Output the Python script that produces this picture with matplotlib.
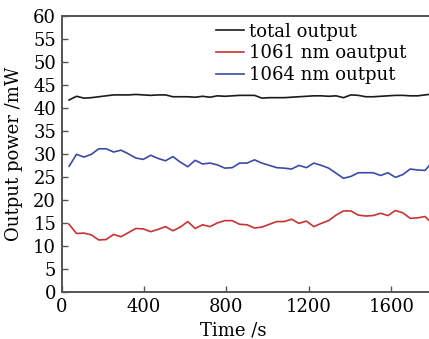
import matplotlib
matplotlib.use('Agg')
import matplotlib.pyplot as plt

# time axis: one reading every 36 s
time_s = [36, 72, 108, 144, 180, 216, 252, 288, 324, 360,
          396, 432, 468, 504, 540, 576, 612, 648, 684, 720,
          756, 792, 828, 864, 900, 936, 972, 1008, 1044, 1080,
          1116, 1152, 1188, 1224, 1260, 1296, 1332, 1368, 1404, 1440,
          1476, 1512, 1548, 1584, 1620, 1656, 1692, 1728, 1764, 1800]

total_out = [41.7, 42.5, 42.1, 42.2, 42.4, 42.6, 42.8, 42.8, 42.8, 42.9,
             42.8, 42.7, 42.8, 42.8, 42.4, 42.4, 42.4, 42.3, 42.5, 42.3,
             42.6, 42.5, 42.6, 42.7, 42.7, 42.7, 42.1, 42.2, 42.2, 42.2,
             42.3, 42.4, 42.5, 42.6, 42.6, 42.5, 42.6, 42.2, 42.8, 42.7,
             42.4, 42.4, 42.5, 42.6, 42.7, 42.7, 42.6, 42.6, 42.8, 43.0]

out_1061 = [14.7, 12.7, 12.8, 12.4, 11.3, 11.4, 12.5, 12.0, 12.9, 13.8,
            13.7, 13.1, 13.6, 14.2, 13.3, 14.1, 15.3, 13.8, 14.6, 14.2,
            15.0, 15.5, 15.5, 14.7, 14.6, 13.9, 14.1, 14.7, 15.3, 15.3,
            15.8, 14.9, 15.4, 14.2, 14.9, 15.5, 16.7, 17.6, 17.6, 16.7,
            16.5, 16.6, 17.1, 16.6, 17.7, 17.2, 16.0, 16.1, 16.4, 14.8]

out_1064 = [27.3, 29.9, 29.3, 29.9, 31.1, 31.1, 30.4, 30.8, 30.0, 29.1,
            28.8, 29.7, 29.0, 28.5, 29.4, 28.2, 27.2, 28.6, 27.8, 28.0,
            27.6, 26.9, 27.0, 28.0, 28.0, 28.7, 28.0, 27.5, 27.0, 26.9,
            26.7, 27.5, 27.0, 28.0, 27.5, 26.9, 25.8, 24.7, 25.1, 25.9,
            25.9, 25.9, 25.3, 25.9, 24.9, 25.5, 26.7, 26.5, 26.4, 28.3]

plt.rcParams['font.family'] = 'DejaVu Serif'
plt.rcParams['font.size'] = 13

fig = plt.figure(figsize=(4.29, 3.39), dpi=100)
ax = fig.add_axes([0.1438, 0.1386, 0.8643, 0.8151])

ax.plot(time_s, total_out, color='#1a1a1a', lw=1.2, label='total output')
ax.plot(time_s, out_1061, color='#c83232', lw=1.2, label='1061 nm oautput')
ax.plot(time_s, out_1064, color='#3a4aa8', lw=1.2, label='1064 nm output')

ax.set_xlim(0, 1800)
ax.set_ylim(0, 60)
ax.set_xticks([0, 400, 800, 1200, 1600])
ax.set_yticks(range(0, 61, 5))
ax.tick_params(direction='in', length=4, width=1, color='#555555', pad=4)
for s in ax.spines.values():
    s.set_color('#555555')
    s.set_linewidth(1.4)

ax.set_xlabel('Time /s')
ax.xaxis.set_label_coords(0.462, -0.105)
ax.set_ylabel('Output power /mW')
ax.yaxis.set_label_coords(-0.104, 0.5)

ax.legend(loc='upper left', bbox_to_anchor=(0.416, 0.975), frameon=False,
          borderaxespad=0, borderpad=0, handlelength=1.55, handletextpad=0.28,
          labelspacing=0.2)

fig.savefig('out.png', dpi=100)
